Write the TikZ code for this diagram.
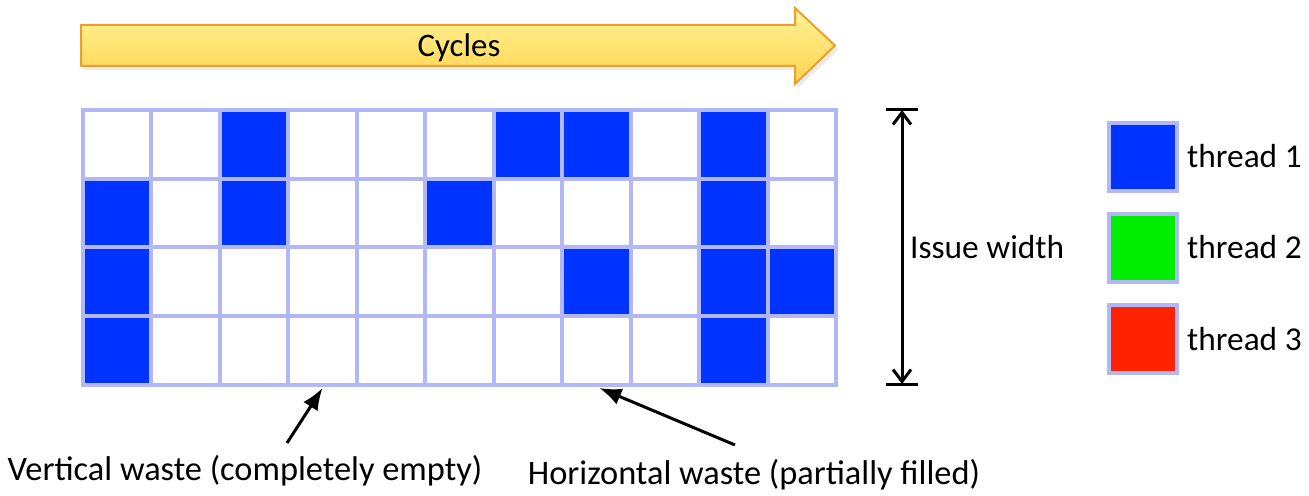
\documentclass[tikz,border=0pt]{standalone}
\usepackage{fontspec}
\setmainfont{Carlito}
\usetikzlibrary{arrows.meta,shadows,calc}
\definecolor{cellblue}{RGB}{0,51,255}
\definecolor{lav}{RGB}{178,184,246}
\definecolor{tgreen}{RGB}{0,238,0}
\definecolor{tred}{RGB}{255,34,0}
\definecolor{ytop}{RGB}{255,242,150}
\definecolor{ybot}{RGB}{255,212,80}
\definecolor{yborder}{RGB}{232,160,50}
\colorlet{W}{white}
\colorlet{B}{cellblue}
\tikzset{
  cell/.style={draw=lav,line width=4bp,minimum width=68.45bp,minimum height=68.75bp,inner sep=0pt,outer sep=0pt},
  legbox/.style={draw=lav,line width=4bp,minimum size=68bp,inner sep=0pt},
  txt/.style={font=\fontsize{33.5}{40}\selectfont,inner sep=0pt},
  bigtxt/.style={font=\fontsize{34.5}{41}\selectfont,inner sep=0pt},
  ptr/.style={line width=3bp,-{Latex[length=22bp,width=17bp]}},
}
\begin{document}
\begin{tikzpicture}[x=1bp,y=-1bp]
\useasboundingbox (0,0) rectangle (1309,496);
% cycles arrow
\fill[black!20,opacity=0.4] (84,29) -- (798,29) -- (798,11) -- (839,49.5) -- (798,88) -- (798,70) -- (84,70) -- cycle;
\draw[yborder,line width=2bp,top color=ytop,bottom color=ybot]
  (81,25) -- (795,25) -- (795,8) -- (835,45.5) -- (795,84) -- (795,66) -- (81,66) -- cycle;
\node[font=\fontsize{33}{40}\selectfont,inner sep=0pt,anchor=base] (cyc) at (459,57) {Cycles};
% grid
\foreach \r/\cols in {0/{W,W,B,W,W,W,B,B,W,B,W},1/{B,W,B,W,W,B,W,W,W,B,W},2/{B,W,W,W,W,W,W,B,W,B,B},3/{B,W,W,W,W,W,W,W,W,B,W}}{
  \foreach \f [count=\c from 0] in \cols {
    \node[cell,fill=\f] (c-\r-\c) at ({83+68.45*(\c+0.5)},{110+68.75*(\r+0.5)}) {};
  }
}
% issue width
\coordinate (iwt) at (902,110);
\coordinate (iwb) at (902,384);
\draw[line width=3bp] (886,110) -- (918,110);
\draw[line width=3bp] (886,384) -- (918,384);
\draw[line width=3bp,{Straight Barb[length=12bp,width=18bp]}-{Straight Barb[length=12bp,width=18bp]}] (iwt) -- (iwb);
\node[txt,anchor=base west] (iw) at (910,259) {Issue width};
% legend
\node[legbox,fill=cellblue] (l1) at (1143,157) {};
\node[legbox,fill=tgreen] (l2) at (1143,248) {};
\node[legbox,fill=tred] (l3) at (1143,339) {};
\node[txt,anchor=base west] (t1) at (1187,168) {thread 1};
\node[txt,anchor=base west] (t2) at (1187,259) {thread 2};
\node[txt,anchor=base west] (t3) at (1187,350) {thread 3};
% bottom labels
\node[bigtxt,anchor=base] (vw) at (245,480) {Vertical waste (completely empty)};
\node[bigtxt,anchor=base] (hw) at (754,484) {Horizontal waste (partially filled)};
\coordinate (vwt) at (287,443);
\coordinate (hwt) at (735,445);
\draw[ptr] (vwt) -- ($(c-3-3.south)+(0,3)$);
\draw[ptr] (hwt) -- ($(c-3-7.south)+(3,3)$);
\end{tikzpicture}
\end{document}
